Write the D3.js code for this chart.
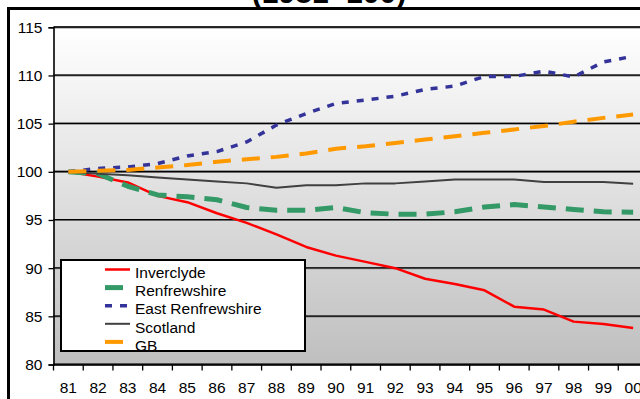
<!DOCTYPE html>
<html>
<head>
<meta charset="utf-8">
<script src="https://cdn.jsdelivr.net/npm/d3@7/dist/d3.min.js"></script>
<style>
  html, body { margin: 0; padding: 0; background: #fff; }
  svg { display: block; font-family: Arial, "Liberation Sans", sans-serif; }
</style>
</head>
<body>
<svg id="chart" width="640" height="399"></svg>
<script>
// Population index, 1981 = 100
const years = ["81","82","83","84","85","86","87","88","89","90","91","92","93","94","95","96","97","98","99","00"];
const inverclyde = [100, 99.5, 98.9, 97.5, 96.85, 95.7, 94.7, 93.5, 92.2, 91.3, 90.65, 90.0, 88.9, 88.35, 87.7, 86.0, 85.7, 84.45, 84.2, 83.8];
const renfrewshire = [100, 99.8, 98.5, 97.6, 97.4, 97.1, 96.3, 96.0, 96.0, 96.3, 95.75, 95.6, 95.6, 95.85, 96.35, 96.6, 96.35, 96.1, 95.85, 95.8];
const eastRenfrewshire = [100, 100.35, 100.5, 100.85, 101.65, 102.1, 103.1, 104.85, 106.05, 107.1, 107.45, 107.85, 108.55, 108.9, 109.9, 109.9, 110.45, 109.85, 111.4, 112.0];
const scotland = [100, 99.8, 99.65, 99.4, 99.2, 99.0, 98.8, 98.35, 98.6, 98.6, 98.8, 98.8, 99.0, 99.2, 99.2, 99.2, 98.95, 98.95, 98.95, 98.75];
const gb = [100, 100.1, 100.2, 100.45, 100.7, 101.05, 101.3, 101.55, 101.9, 102.4, 102.65, 103.0, 103.35, 103.7, 104.05, 104.4, 104.75, 105.2, 105.6, 105.95];
const seriesNames = ["Inverclyde", "Renfrewshire", "East Renfrewshire", "Scotland", "GB"];
const yTicks = [80, 85, 90, 95, 100, 105, 110, 115];
const titleText = "(1981=100)";

const series = [
  { name: seriesNames[0], values: inverclyde,       color: "#ff0000", width: 2.5, dash: null },
  { name: seriesNames[1], values: renfrewshire,     color: "#339966", width: 5,   dash: "18,10" },
  { name: seriesNames[2], values: eastRenfrewshire, color: "#333399", width: 3.5, dash: "7,8" },
  { name: seriesNames[3], values: scotland,         color: "#404040", width: 2,   dash: null },
  { name: seriesNames[4], values: gb,               color: "#ff9900", width: 4,   dash: "18,11" }
];

const svg = d3.select("#chart");
const plot = { left: 53.5, top: 27.3, right: 648, bottom: 365 };

const x = d3.scaleBand().domain(years).range([plot.left, plot.right]).padding(0);
const y = d3.scaleLinear().domain([80, 115]).range([364.5, 27.3]);
const cx = d => x(d) + x.bandwidth() / 2;

// title (runs off the top edge)
svg.append("text")
  .attr("x", 329).attr("y", 3)
  .attr("text-anchor", "middle")
  .attr("font-weight", "bold")
  .attr("font-size", 30)
  .text(titleText);

// chart area border
svg.append("rect")
  .attr("x", 8.5).attr("y", 8.5)
  .attr("width", 700).attr("height", 500)
  .attr("fill", "#fff")
  .attr("stroke", "#000").attr("stroke-width", 3);

// plot background gradient
const defs = svg.append("defs");
const grad = defs.append("linearGradient").attr("id", "plotBg")
  .attr("x1", 0).attr("y1", 0).attr("x2", 0).attr("y2", 1);
grad.append("stop").attr("offset", "0%").attr("stop-color", "#ffffff");
grad.append("stop").attr("offset", "100%").attr("stop-color", "#bfbfbf");

svg.append("rect")
  .attr("x", plot.left).attr("y", y(115))
  .attr("width", plot.right - plot.left)
  .attr("height", y(80) - y(115))
  .attr("fill", "url(#plotBg)");

// gridlines
svg.append("g")
  .selectAll("line")
  .data(yTicks)
  .join("line")
  .attr("x1", plot.left).attr("x2", plot.right)
  .attr("y1", d => y(d)).attr("y2", d => y(d))
  .attr("stroke", "#8a8a8a").attr("stroke-width", 2.2);
svg.append("g")
  .selectAll("line")
  .data(yTicks)
  .join("line")
  .attr("x1", plot.left).attr("x2", plot.right)
  .attr("y1", d => y(d) - 0.3).attr("y2", d => y(d) - 0.3)
  .attr("stroke", "#000").attr("stroke-width", 1.3);

// y axis
const yAxis = svg.append("g")
  .attr("transform", `translate(${plot.left},0)`)
  .call(d3.axisLeft(y).tickValues(yTicks).tickSize(5).tickPadding(6).tickFormat(d3.format("d")));
yAxis.select(".domain").attr("stroke", "#000").attr("stroke-width", 1.6);
yAxis.selectAll(".tick line").attr("stroke", "#000").attr("stroke-width", 1.3);
yAxis.selectAll("text")
  .attr("font-size", 15.5)
  .attr("font-family", "Arial, 'Liberation Sans', sans-serif")
  .attr("fill", "#000");

// x axis
const xAxis = svg.append("g")
  .attr("transform", `translate(0,${y(80)})`)
  .call(d3.axisBottom(x).tickSize(0).tickPadding(17));
xAxis.select(".domain").attr("stroke", "#000").attr("stroke-width", 1.6);
xAxis.selectAll("text")
  .attr("font-size", 15.5)
  .attr("font-family", "Arial, 'Liberation Sans', sans-serif")
  .attr("fill", "#000");
// tick marks between categories
xAxis.append("g")
  .selectAll("line")
  .data(years)
  .join("line")
  .attr("x1", d => x(d)).attr("x2", d => x(d))
  .attr("y1", 0).attr("y2", 6)
  .attr("stroke", "#000").attr("stroke-width", 1.3);

// series lines
const line = d3.line()
  .x((v, i) => cx(years[i]))
  .y(v => y(v));

svg.append("g")
  .selectAll("path")
  .data(series)
  .join("path")
  .attr("d", s => line(s.values))
  .attr("fill", "none")
  .attr("stroke", s => s.color)
  .attr("stroke-width", s => s.width)
  .attr("stroke-dasharray", s => s.dash)
  .attr("stroke-linejoin", "round");

// legend
const lg = { x: 61, y: 260, w: 244, h: 91 };
defs.append("clipPath").attr("id", "legendClip")
  .append("rect").attr("x", lg.x).attr("y", lg.y).attr("width", lg.w).attr("height", lg.h);

const legend = svg.append("g");
legend.append("rect")
  .attr("x", lg.x).attr("y", lg.y)
  .attr("width", lg.w).attr("height", lg.h)
  .attr("fill", "#fff");

const items = legend.append("g").attr("clip-path", "url(#legendClip)")
  .selectAll("g")
  .data(series)
  .join("g");

items.append("line")
  .attr("x1", 105).attr("x2", 130)
  .attr("y1", (s, i) => 269.5 + 18.1 * i)
  .attr("y2", (s, i) => 269.5 + 18.1 * i)
  .attr("stroke", s => s.color)
  .attr("stroke-width", s => s.width)
  .attr("stroke-dasharray", s => s.dash);

items.append("text")
  .attr("x", 135)
  .attr("y", (s, i) => 278 + 18.2 * i)
  .attr("font-size", 15.5)
  .attr("fill", "#000")
  .text(s => s.name);

legend.append("rect")
  .attr("x", lg.x).attr("y", lg.y)
  .attr("width", lg.w).attr("height", lg.h)
  .attr("fill", "none")
  .attr("stroke", "#000").attr("stroke-width", 2);
</script>
</body>
</html>
